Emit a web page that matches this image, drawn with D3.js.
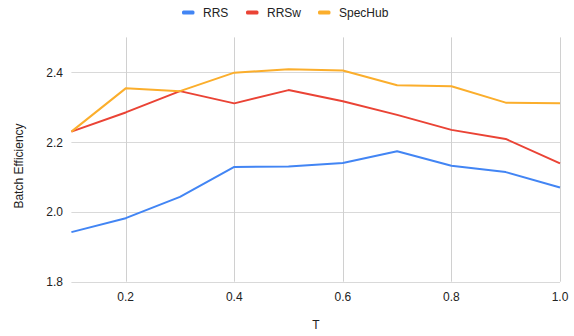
<!DOCTYPE html>
<html>
<head>
<meta charset="utf-8">
<script src="https://cdn.jsdelivr.net/npm/d3@7"></script>
<style>
  html, body { margin: 0; padding: 0; background: #fff; }
  svg { display: block; font-family: "Liberation Sans", Arial, sans-serif; }
</style>
</head>
<body>
<svg id="chart" width="574" height="336"></svg>
<script>
const tValues = [0.1, 0.2, 0.3, 0.4, 0.5, 0.6, 0.7, 0.8, 0.9, 1.0];
const rrs     = [1.942, 1.982, 2.043, 2.129, 2.130, 2.140, 2.174, 2.132, 2.114, 2.070];
const rrsw    = [2.230, 2.285, 2.346, 2.311, 2.349, 2.317, 2.278, 2.235, 2.209, 2.139];
const specHub = [2.230, 2.354, 2.346, 2.399, 2.409, 2.405, 2.363, 2.360, 2.313, 2.311];
const seriesNames = ["RRS", "RRSw", "SpecHub"];
const seriesColors = ["#4285F4", "#EA4335", "#FBAE2C"];
const xTicks = [0.2, 0.4, 0.6, 0.8, 1.0];
const yTicks = [1.8, 2.0, 2.2, 2.4];

const seriesData = [rrs, rrsw, specHub];
const svg = d3.select("#chart");

const x = d3.scaleLinear().domain([0.1, 1.0]).range([71.4, 560]);
const y = d3.scaleLinear().domain([1.8, 2.5]).range([281.7, 37.4]);

// horizontal gridlines
svg.append("g").selectAll("line").data(yTicks).join("line")
  .attr("x1", x(0.1)).attr("x2", x(1.0))
  .attr("y1", d => Math.round(y(d)) + 0.5).attr("y2", d => Math.round(y(d)) + 0.5)
  .attr("stroke", "#d9d9d9").attr("stroke-width", 1);

// vertical gridlines
svg.append("g").selectAll("line").data(xTicks).join("line")
  .attr("x1", d => Math.round(x(d)) + 0.5).attr("x2", d => Math.round(x(d)) + 0.5)
  .attr("y1", y(2.5)).attr("y2", y(1.8))
  .attr("stroke", "#d0d0d0").attr("stroke-width", 1);

// y tick labels
svg.append("g").selectAll("text").data(yTicks).join("text")
  .attr("x", 63).attr("y", d => y(d) + 4.5)
  .attr("text-anchor", "end")
  .attr("font-size", 12).attr("fill", "#222")
  .text(d => d3.format(".1f")(d));

// x tick labels
svg.append("g").selectAll("text").data(xTicks).join("text")
  .attr("x", d => x(d)).attr("y", 301)
  .attr("text-anchor", "middle")
  .attr("font-size", 12).attr("fill", "#222")
  .text(d => d3.format(".1f")(d));

// axis titles
svg.append("text")
  .attr("x", 316).attr("y", 329)
  .attr("text-anchor", "middle")
  .attr("font-size", 12).attr("fill", "#222")
  .text("T");
svg.append("text")
  .attr("transform", "translate(23,166) rotate(-90)")
  .attr("text-anchor", "middle")
  .attr("font-size", 12).attr("fill", "#222")
  .text("Batch Efficiency");

// lines
const line = d3.line()
  .x((d, i) => x(tValues[i]))
  .y(d => y(d));

svg.append("g").selectAll("path").data(seriesData).join("path")
  .attr("d", d => line(d))
  .attr("fill", "none")
  .attr("stroke", (d, i) => seriesColors[i])
  .attr("stroke-width", 2)
  .attr("stroke-linejoin", "round");

// legend
const legendX = [182, 246, 318];
const lg = svg.append("g").selectAll("g").data(seriesNames).join("g")
  .attr("transform", (d, i) => `translate(${legendX[i]},0)`);
lg.append("rect")
  .attr("x", 0).attr("y", 10.5).attr("width", 12.5).attr("height", 4).attr("rx", 1.5)
  .attr("fill", (d, i) => seriesColors[i]);
lg.append("text")
  .attr("x", 21).attr("y", 16.5)
  .attr("font-size", 12).attr("fill", "#222")
  .text(d => d);
</script>
</body>
</html>
